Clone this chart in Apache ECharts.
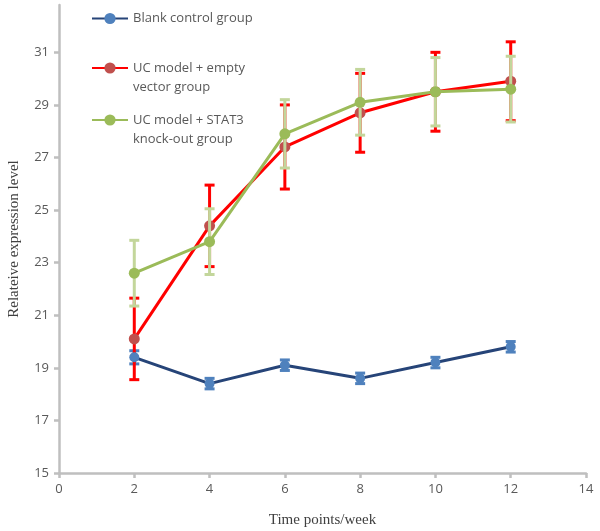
<!DOCTYPE html>
<html>
<head>
<meta charset="utf-8">
<script src="https://cdn.jsdelivr.net/npm/echarts@6/dist/echarts.min.js"></script>
<style>html,body{margin:0;padding:0;background:#fff}#c{width:600px;height:531px}</style>
</head>
<body>
<div id="c"></div>
<script>
const weeks = [2, 4, 6, 8, 10, 12];
const seriesNames = ['Blank control group', 'UC model + empty\nvector group', 'UC model + STAT3\nknock-out group'];
const blankValues = [19.4, 18.4, 19.1, 18.6, 19.2, 19.8];
const blankErr    = [0.25, 0.2, 0.2, 0.2, 0.2, 0.2];
const emptyValues = [20.1, 24.4, 27.4, 28.7, 29.5, 29.9];
const emptyErr    = [1.55, 1.55, 1.6, 1.5, 1.5, 1.5];
const stat3Values = [22.6, 23.8, 27.9, 29.1, 29.5, 29.6];
const stat3Err    = [1.25, 1.25, 1.3, 1.25, 1.3, 1.25];
const yTickValues = [15, 17, 19, 21, 23, 25, 27, 29, 31];

const pairs = (xs, ys) => xs.map((x, i) => [x, ys[i]]);
const errData = (xs, ys, es) => xs.map((x, i) => [x, ys[i] - es[i], ys[i] + es[i]]);

function errRender(color, width, capW) {
  return function (params, api) {
    const x = api.value(0);
    const lo = api.coord([x, api.value(1)]);
    const hi = api.coord([x, api.value(2)]);
    const st = { stroke: color, lineWidth: width };
    return {
      type: 'group',
      children: [
        { type: 'line', shape: { x1: lo[0], y1: lo[1], x2: hi[0], y2: hi[1] }, style: st },
        { type: 'line', shape: { x1: lo[0] - capW / 2, y1: lo[1], x2: lo[0] + capW / 2, y2: lo[1] }, style: st },
        { type: 'line', shape: { x1: hi[0] - capW / 2, y1: hi[1], x2: hi[0] + capW / 2, y2: hi[1] }, style: st }
      ]
    };
  };
}

const labelFont = { color: '#595959', fontSize: 13, fontFamily: 'Open Sans' };
const legendText = { color: '#595959', fontSize: 13, fontFamily: 'Open Sans', lineHeight: 19 };
const topAligned = n => ' \n' + n;

const chart = echarts.init(document.getElementById('c'));
chart.setOption({
  animation: false,
  backgroundColor: '#fff',
  grid: { left: 59, right: 14, top: 5, bottom: 58, outerBoundsMode: 'none' },
  legend: [
    { data: [seriesNames[0]], left: 91, top: 9, padding: 0, itemWidth: 36, itemHeight: 14, textStyle: legendText },
    { data: [seriesNames[1]], left: 91, top: 39.5, padding: 0, itemWidth: 36, itemHeight: 14, textStyle: legendText, formatter: topAligned },
    { data: [seriesNames[2]], left: 91, top: 91.5, padding: 0, itemWidth: 36, itemHeight: 14, textStyle: legendText, formatter: topAligned }
  ],
  xAxis: {
    type: 'value', min: 0, max: 14, interval: 2,
    name: 'Time points/week', nameLocation: 'middle', nameGap: 40,
    nameTextStyle: { fontFamily: 'Liberation Serif', fontSize: 15, color: '#404040' },
    axisLine: { show: true, lineStyle: { color: '#BFBFBF', width: 2.5 } },
    axisTick: { show: true, length: 5, lineStyle: { color: '#BFBFBF', width: 2.5 } },
    axisLabel: Object.assign({ margin: 10 }, labelFont),
    splitLine: { show: false }
  },
  yAxis: {
    type: 'value', min: 15, max: 32.8,
    name: 'Relateive expression level', nameLocation: 'middle', nameGap: 37,
    nameTextStyle: { fontFamily: 'Liberation Serif', fontSize: 15, color: '#404040' },
    axisLine: { show: true, lineStyle: { color: '#BFBFBF', width: 2.5 } },
    axisTick: { show: true, length: 5, customValues: yTickValues, lineStyle: { color: '#BFBFBF', width: 2.5 } },
    axisLabel: Object.assign({ margin: 10, customValues: yTickValues }, labelFont),
    splitLine: { show: false }
  },
  series: [
    { type: 'custom', name: 'errBlank', data: errData(weeks, blankValues, blankErr), renderItem: errRender('#4F81BD', 3, 10), encode: { x: 0, y: [1, 2] }, z: 2 },
    { type: 'line', name: seriesNames[0], data: pairs(weeks, blankValues), symbol: 'circle', symbolSize: 10,
      lineStyle: { color: '#264478', width: 3 }, itemStyle: { color: '#4F81BD' }, color: '#264478', z: 3 },
    { type: 'custom', name: 'errEmpty', data: errData(weeks, emptyValues, emptyErr), renderItem: errRender('#FF0000', 3, 10), encode: { x: 0, y: [1, 2] }, z: 2 },
    { type: 'line', name: seriesNames[1], data: pairs(weeks, emptyValues), symbol: 'circle', symbolSize: 11,
      lineStyle: { color: '#FF0000', width: 3 }, itemStyle: { color: '#C0504D' }, color: '#FF0000', z: 3 },
    { type: 'custom', name: 'errStat3', data: errData(weeks, stat3Values, stat3Err), renderItem: errRender('#C3D69B', 3, 10), encode: { x: 0, y: [1, 2] }, z: 4 },
    { type: 'line', name: seriesNames[2], data: pairs(weeks, stat3Values), symbol: 'circle', symbolSize: 11,
      lineStyle: { color: '#9BBB59', width: 3 }, itemStyle: { color: '#9BBB59' }, color: '#9BBB59', z: 5 }
  ]
});
</script>
</body>
</html>
